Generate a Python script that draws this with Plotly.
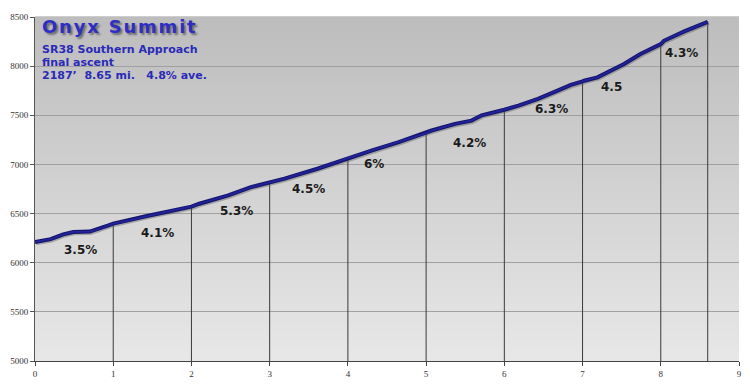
import numpy as np
import plotly.graph_objects as go

# ---- data ----
miles = [0.00, 0.10, 0.20, 0.36, 0.49, 0.70, 0.79, 0.87, 0.93, 1.00, 1.21, 1.43, 1.63, 1.76, 1.89,
         2.00, 2.10, 2.47, 2.76, 3.00, 3.19, 3.61, 4.00, 4.31, 4.65, 5.00, 5.07, 5.37, 5.58, 5.71,
         5.88, 6.00, 6.18, 6.43, 6.68, 6.85, 7.00, 7.02, 7.19, 7.32, 7.36, 7.53, 7.74, 8.00, 8.04,
         8.30, 8.60]
elev = [6211, 6222, 6240, 6289, 6313, 6317, 6340, 6353, 6378, 6398, 6431, 6475, 6509, 6533, 6550,
        6570, 6600, 6685, 6769, 6820, 6855, 6956, 7065, 7142, 7226, 7318, 7345, 7413, 7446, 7500,
        7531, 7556, 7599, 7667, 7751, 7809, 7845, 7852, 7886, 7937, 7954, 8022, 8123, 8225, 8258,
        8353, 8451]
drop_miles = [1, 2, 3, 4, 5, 6, 7, 8, 8.6]
grade_labels = ["3.5%", "4.1%", "5.3%", "4.5%", "6%", "4.2%", "6.3%", "4.5", "4.3%"]
grade_x = [0.58, 1.57, 2.58, 3.49, 4.33, 5.55, 6.60, 7.37, 8.26]
grade_y = [6127, 6300, 6530, 6745, 7000, 7213, 7560, 7792, 8137]
title = "Onyx Summit"
subtitle = ["SR38 Southern Approach", "final ascent", "2187\u2019  8.65 mi.   4.8% ave."]
x_ticks = list(range(0, 10))
y_ticks = list(range(5000, 8501, 500))

fig = go.Figure()

# drop lines
dx, dy = [], []
for m in drop_miles:
    top = float(np.interp(m, miles, elev))
    dx += [m, m, None]
    dy += [5000, top, None]
fig.add_trace(go.Scatter(x=dx, y=dy, mode="lines", line=dict(color="#3a3a3a", width=1),
                         hoverinfo="skip", showlegend=False))

# shadow of profile
fig.add_trace(go.Scatter(x=[m + 0.012 for m in miles], y=[e - 14 for e in elev], mode="lines",
                         line=dict(color="rgba(90,90,90,0.4)", width=4), hoverinfo="skip",
                         showlegend=False))
# profile
fig.add_trace(go.Scatter(x=miles, y=elev, mode="lines", line=dict(color="#15156e", width=4),
                         showlegend=False))
fig.add_trace(go.Scatter(x=miles, y=elev, mode="lines", line=dict(color="#23239a", width=1.8),
                         showlegend=False))

# gradient background
shapes = []
N = 90
top_c = np.array([189, 189, 189])
bot_c = np.array([232, 232, 232])
for i in range(N):
    f = (i + 0.5) / N  # 0 bottom -> 1 top
    c = bot_c + (top_c - bot_c) * f
    shapes.append(dict(type="rect", xref="paper", yref="paper", x0=0, x1=1,
                       y0=i / N, y1=(i + 1) / N + 0.002, fillcolor="rgb(%d,%d,%d)" % tuple(c.astype(int)),
                       line=dict(width=0), layer="below"))

annotations = []
for t, x, y in zip(grade_labels, grade_x, grade_y):
    annotations.append(dict(x=x, y=y, xref="x", yref="y", text=t, showarrow=False,
                            font=dict(family="DejaVu Sans", size=12, color="#1a1a1a", weight="bold")))

spaced_title = "\u200a".join(list(title))
annotations.append(dict(x=0.0075, y=0.973, xref="paper", yref="paper", text=spaced_title,
                        showarrow=False, xanchor="left", yanchor="middle",
                        font=dict(family="DejaVu Sans", size=18, color="#2e2ec4", weight="bold",
                                  shadow="2px 2px 2px #6e6e6e")))
sub_y = [0.905, 0.868, 0.830]
for t, y in zip(subtitle, sub_y):
    annotations.append(dict(x=0.0065, y=y, xref="paper", yref="paper", text=t.replace(" ", "\u00a0"),
                            showarrow=False, xanchor="left", yanchor="middle",
                            font=dict(family="DejaVu Sans", size=11, color="#2a2ab8", weight="bold")))

tick_font = dict(family="Liberation Sans Narrow", size=9, color="#333333")
fig.update_layout(
    width=750, height=390,
    margin=dict(l=35, r=8, t=17, b=29),
    paper_bgcolor="white",
    plot_bgcolor="#e6e6e6",
    shapes=shapes,
    annotations=annotations,
    xaxis=dict(range=[0, 9], tickvals=x_ticks, showgrid=False, zeroline=False,
               showline=True, linecolor="#444444", linewidth=1, ticks="outside", ticklen=4,
               tickcolor="#444444", tickfont=tick_font, fixedrange=True),
    yaxis=dict(range=[5000, 8500], tickvals=y_ticks, showgrid=True, gridcolor="#a0a0a0",
               gridwidth=1, zeroline=False, showline=True, linecolor="#555555", linewidth=1,
               ticks="outside", ticklen=4, tickcolor="#555555", tickfont=tick_font, fixedrange=True),
    showlegend=False,
)

fig.write_html("out.html")
